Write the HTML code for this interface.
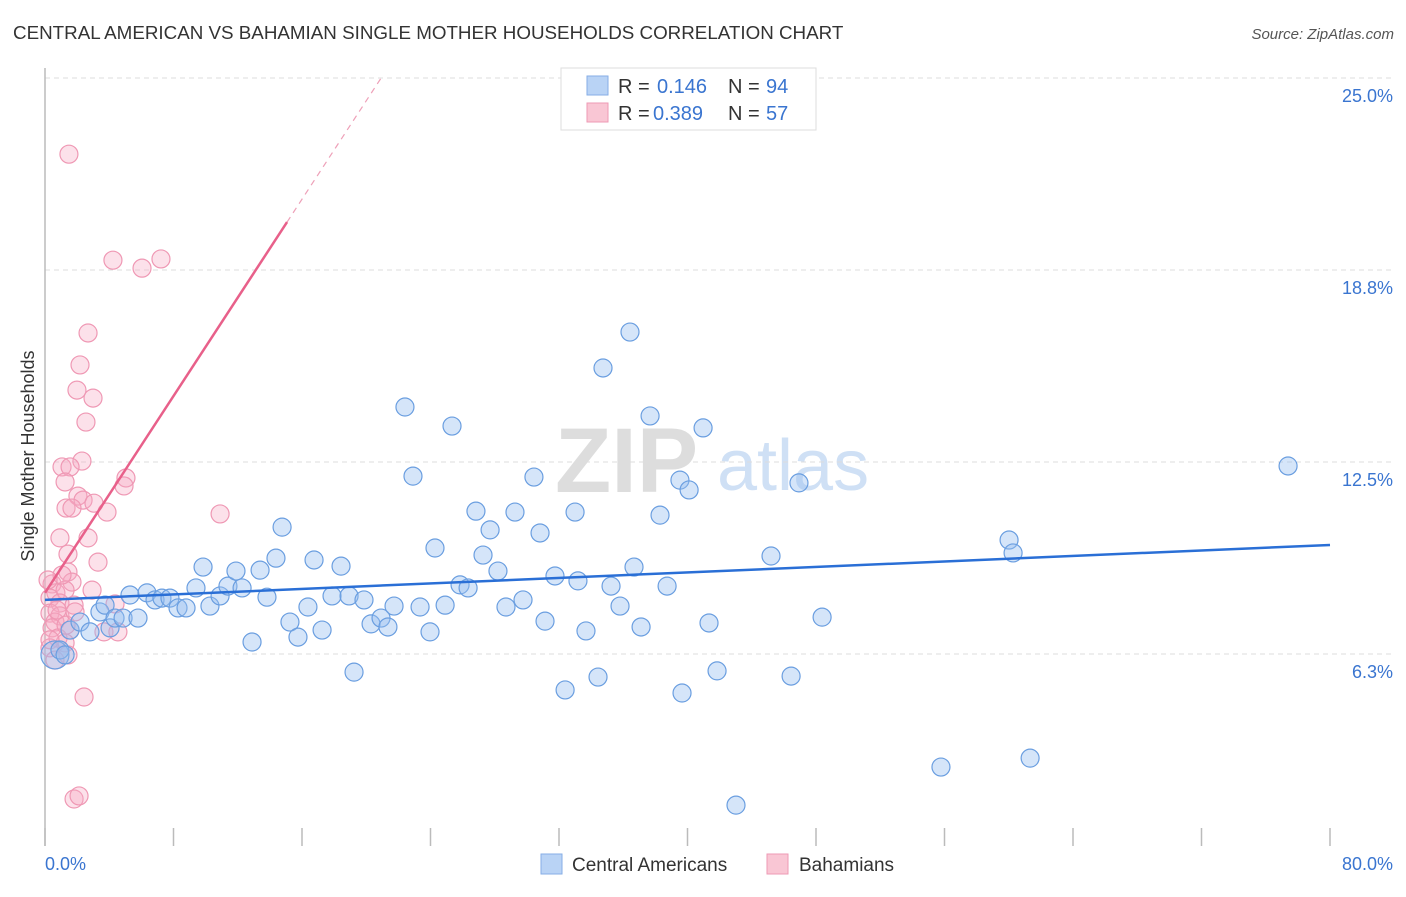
<!DOCTYPE html>
<html><head><meta charset="utf-8"><style>
body{margin:0;background:#fff;font-family:"Liberation Sans",sans-serif;}
svg text{font-family:"Liberation Sans",sans-serif;}
</style></head><body>
<svg id="chart" width="1406" height="892" viewBox="0 0 1406 892" xmlns="http://www.w3.org/2000/svg">
<text x="13" y="39" font-size="18.8" fill="#333">CENTRAL AMERICAN VS BAHAMIAN SINGLE MOTHER HOUSEHOLDS CORRELATION CHART</text>
<text x="1394" y="39" font-size="15" fill="#555" text-anchor="end" font-style="italic">Source: ZipAtlas.com</text>
<g>
<text x="555" y="492" font-size="92" fill="#ddd" font-family="Liberation Serif" font-weight="bold">ZIP</text>
<text x="717" y="490" font-size="72" fill="#cfe0f5">atlas</text>
</g>
<g id="grid"></g>
<g id="axes"></g>
<g id="pts"></g>
<g id="lines"></g>
<text transform="translate(34,456) rotate(-90)" font-size="18" fill="#333" text-anchor="middle">Single Mother Households</text>
<g>
<rect x="561" y="68" width="255" height="62" fill="#fff" stroke="#ddd"/>
<rect x="587" y="76" width="21" height="19" fill="#b9d3f5" stroke="#86aee6"/>
<rect x="587" y="103" width="21" height="19" fill="#f9c6d4" stroke="#ee9ab4"/>
<text x="618" y="93" font-size="20" fill="#333">R = </text><text x="657" y="93" font-size="20" fill="#3a75d0">0.146</text>
<text x="728" y="93" font-size="20" fill="#333">N = </text><text x="766" y="93" font-size="20" fill="#3a75d0">94</text>
<text x="618" y="120" font-size="20" fill="#333">R = </text><text x="653" y="120" font-size="20" fill="#3a75d0">0.389</text>
<text x="728" y="120" font-size="20" fill="#333">N = </text><text x="766" y="120" font-size="20" fill="#3a75d0">57</text>
</g>
<g>
<rect x="541" y="854" width="21" height="20" fill="#b9d3f5" stroke="#86aee6"/>
<text x="572" y="871" font-size="19" fill="#333">Central Americans</text>
<rect x="767" y="854" width="21" height="20" fill="#f9c6d4" stroke="#ee9ab4"/>
<text x="799" y="871" font-size="19" fill="#333">Bahamians</text>
</g>
</svg>
<script>
const blueX=[0.62,0.93,1.25,1.56,2.18,2.80,3.42,3.74,4.05,4.36,4.86,5.29,5.79,6.35,6.85,7.28,7.78,8.28,8.78,9.40,9.84,10.27,10.90,11.39,11.89,12.27,12.89,13.39,13.82,14.38,14.76,15.25,15.75,16.37,16.75,17.25,17.87,18.43,18.93,19.24,19.86,20.30,20.92,21.35,21.73,22.41,22.91,23.35,23.97,24.28,24.91,25.34,25.84,26.34,26.83,27.27,27.71,28.20,28.70,29.26,29.76,30.44,30.82,31.13,31.75,32.38,33.00,33.18,33.68,34.43,34.74,35.24,35.80,36.42,36.67,37.11,37.67,38.29,38.73,39.53,39.66,40.10,40.97,41.34,41.84,43.02,45.20,46.45,46.94,48.38,55.78,60.02,60.27,61.33,77.39];
const blueY=[6.22,6.38,6.22,7.03,7.29,6.97,7.62,7.84,7.10,7.42,7.42,8.17,7.42,8.24,8.01,8.07,8.07,7.75,7.75,8.40,9.08,7.81,8.14,8.46,8.95,8.40,6.64,8.98,8.10,9.37,10.38,7.29,6.80,7.78,9.31,7.03,8.14,9.11,8.14,5.66,8.01,7.23,7.42,7.13,7.81,14.29,12.04,7.78,6.97,9.70,7.84,13.67,8.50,8.40,10.90,9.47,10.29,8.95,7.78,10.87,8.01,12.01,10.19,7.32,8.79,5.08,10.87,8.63,7.00,5.50,15.56,8.46,7.81,16.73,9.08,7.13,14.00,10.77,8.46,11.91,4.98,11.59,13.61,7.26,5.70,1.33,9.44,5.53,11.82,7.45,2.57,9.96,9.54,2.86,12.37];
const pinkX=[1.49,4.23,6.04,7.22,2.68,2.18,1.99,2.99,2.55,2.30,1.06,1.56,1.25,2.05,2.37,3.05,1.31,1.68,3.86,10.90,5.04,4.92,2.68,0.93,1.43,3.30,1.43,0.44,1.68,2.93,0.68,1.25,0.31,0.93,1.81,4.36,0.31,0.93,0.62,0.44,1.56,3.67,4.54,0.81,1.25,0.31,1.43,2.43,1.81,2.12,0.62,1.06,0.19,0.75,1.31,1.87,0.31];
const pinkY=[22.52,19.07,18.81,19.11,16.70,15.66,14.84,14.58,13.80,12.53,12.34,12.34,11.85,11.39,11.26,11.16,11.00,11.00,10.87,10.81,11.98,11.72,10.03,10.03,9.50,9.24,8.92,8.53,8.59,8.33,8.24,8.33,8.07,7.91,7.84,7.88,7.58,7.49,7.29,7.10,7.03,6.97,6.97,6.77,6.61,6.45,6.22,4.85,1.53,1.63,6.05,8.82,8.66,7.68,7.19,7.62,6.71];
const blueTrend=[8.01,9.80];
const pinkTrend=[8.24,20.31];
const pinkSolidEnd=15.07;
const yTicks=[6.25,12.5,18.75,25];
const yTickLabels=["6.3%","12.5%","18.8%","25.0%"];
const xTicks=[0,8,16,24,32,40,48,56,64,72,80];

const NS="http://www.w3.org/2000/svg";
const sx=v=>45+v/80*1285;
const sy=v=>846-v/6.25*192;
function mk(p,t,a){const e=document.createElementNS(NS,t);for(const k in a)e.setAttribute(k,a[k]);p.appendChild(e);return e;}
const grid=document.getElementById('grid'),axes=document.getElementById('axes'),pts=document.getElementById('pts'),lines=document.getElementById('lines');
yTicks.forEach((v,i)=>{
 const l=mk(grid,'line',{x1:45,x2:1393,y1:sy(v),y2:sy(v),stroke:'#ddd','stroke-dasharray':'5,4'});
 
 
 const t=mk(grid,'text',{x:1393,y:sy(v)+24,'font-size':18,fill:'#3a75d0','text-anchor':'end'});
 t.textContent=yTickLabels[i];
 
 
});
const ya=mk(axes,'line',{x1:45,x2:45,y1:68,y2:846,stroke:'#bbb','stroke-width':1.5});


xTicks.forEach(v=>{
 const t=mk(axes,'line',{x1:sx(v),x2:sx(v),y1:828,y2:846,stroke:'#bbb','stroke-width':1.5});
 
 
});
const xl0=mk(axes,'text',{x:45,y:870,'font-size':18,fill:'#3a75d0'});xl0.textContent='0.0%';


const xl1=mk(axes,'text',{x:1393,y:870,'font-size':18,fill:'#3a75d0','text-anchor':'end'});xl1.textContent='80.0%';


pinkX.forEach((x,i)=>{
 const c=mk(pts,'circle',{cx:sx(x),cy:sy(pinkY[i]),r:9,fill:'rgba(246,170,196,0.35)',stroke:'#ef98b4','stroke-width':1.2});
 
 
});
blueX.forEach((x,i)=>{
 const c=mk(pts,'circle',{cx:sx(x),cy:sy(blueY[i]),r:i==0?14:9,fill:'rgba(150,190,240,0.4)',stroke:'#6a9ee0','stroke-width':1.2});
 
 
});
const bl=mk(lines,'line',{x1:sx(0),y1:sy(blueTrend[0]),x2:sx(80),y2:sy(blueTrend[1]),stroke:'#2a6fd6','stroke-width':2.5});


const slope=(pinkTrend[1]-pinkTrend[0])/pinkSolidEnd;
const pl=mk(lines,'line',{x1:sx(0),y1:sy(pinkTrend[0]),x2:sx(pinkSolidEnd),y2:sy(pinkTrend[1]),stroke:'#e8608a','stroke-width':2.5});


const xEnd=(25-pinkTrend[0])/slope;
const pd=mk(lines,'line',{x1:sx(pinkSolidEnd),y1:sy(pinkTrend[1]),x2:sx(xEnd),y2:sy(25),stroke:'#eea0b8','stroke-width':1.2,'stroke-dasharray':'6,5'});


</script>
</body></html>
